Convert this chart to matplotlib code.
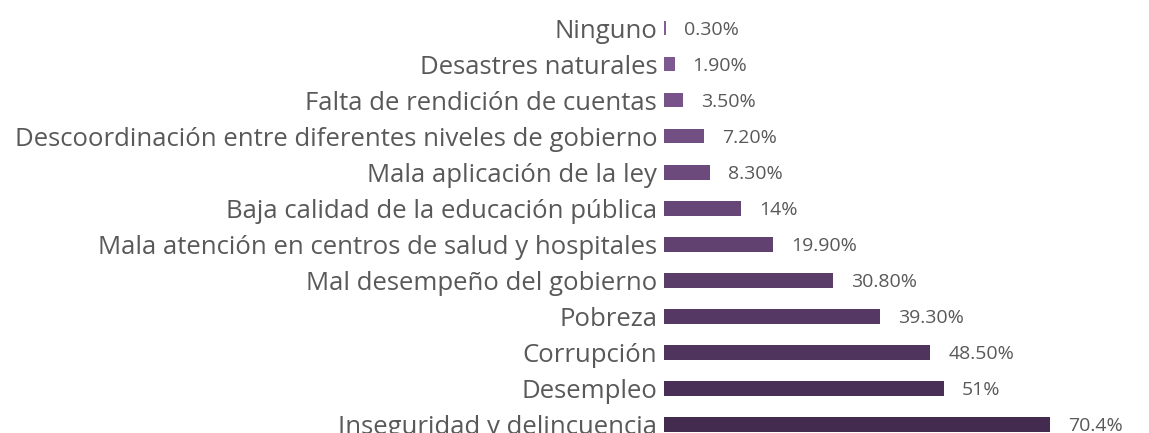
import numpy as np
import matplotlib.pyplot as plt
from matplotlib.colors import LinearSegmentedColormap

categories = [
    "Ninguno",
    "Desastres naturales",
    "Falta de rendición de cuentas",
    "Descoordinación entre diferentes niveles de gobierno",
    "Mala aplicación de la ley",
    "Baja calidad de la educación pública",
    "Mala atención en centros de salud y hospitales",
    "Mal desempeño del gobierno",
    "Pobreza",
    "Corrupción",
    "Desempleo",
    "Inseguridad y delincuencia",
]
values = [0.3, 1.9, 3.5, 7.2, 8.3, 14, 19.9, 30.8, 39.3, 48.5, 51, 70.4]
value_labels = ["0.30%", "1.90%", "3.50%", "7.20%", "8.30%", "14%",
                "19.90%", "30.80%", "39.30%", "48.50%", "51%", "70.4%"]

plt.rcParams['font.family'] = ['Open Sans', 'DejaVu Sans']

fig = plt.figure(figsize=(11.49, 4.33), dpi=100)
ax = fig.add_axes([0.578, -0.0219, 0.422, 0.9977])

cmap = LinearSegmentedColormap.from_list("purp", ["#845c96", "#432b50"])
colors = [cmap(i / (len(values) - 1)) for i in range(len(values))]

y = np.arange(len(categories))
ax.barh(y, values, height=0.39, color=colors)
ax.set_ylim(len(categories) - 0.5, -0.5)
ax.set_xlim(0, 88.4)

ax.set_yticks(y)
ax.set_yticklabels(categories, fontsize=18.5, color="#595959")
ax.tick_params(axis='y', length=0, pad=5)
ax.set_xticks([])
for s in ax.spines.values():
    s.set_visible(False)

for yi, v, lab in zip(y, values, value_labels):
    ax.annotate(lab, (v, yi), xytext=(13, -1), textcoords="offset points",
                va="center", ha="left", fontsize=14, color="#595959")

fig.savefig("out.png", dpi=100)
